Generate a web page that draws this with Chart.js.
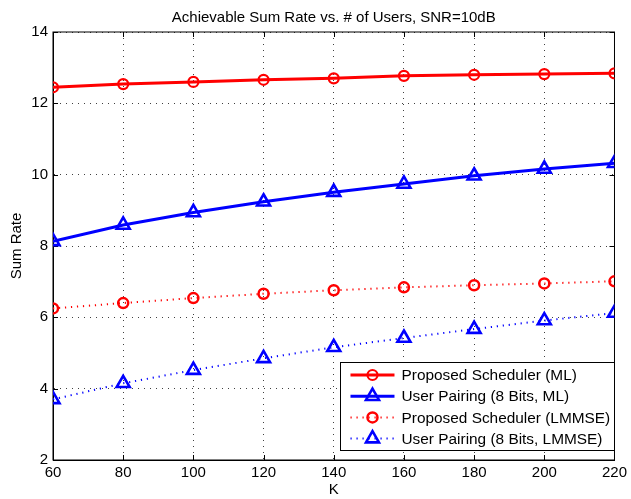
<!DOCTYPE html>
<html>
<head>
<meta charset="utf-8">
<script src="https://cdn.jsdelivr.net/npm/chart.js@4.4.1/dist/chart.umd.min.js"></script>
<style>
html,body{margin:0;padding:0;background:#fff;}
#wrap{width:631px;height:499px;position:relative;}
</style>
</head>
<body>
<div id="wrap"><canvas id="c" width="631" height="499"></canvas></div>
<script>
// ---- data ----
const kValues = [60, 80, 100, 120, 140, 160, 180, 200, 220];
const proposedML = [12.45, 12.54, 12.60, 12.66, 12.70, 12.77, 12.80, 12.82, 12.84];
const pairingML = [8.13, 8.59, 8.94, 9.24, 9.51, 9.74, 9.97, 10.16, 10.32];
const proposedLMMSE = [6.25, 6.40, 6.54, 6.66, 6.76, 6.84, 6.90, 6.95, 7.01];
const pairingLMMSE = [3.70, 4.15, 4.52, 4.85, 5.16, 5.42, 5.67, 5.91, 6.12];
const seriesNames = ['Proposed Scheduler (ML)', 'User Pairing (8 Bits, ML)', 'Proposed Scheduler (LMMSE)', 'User Pairing (8 Bits, LMMSE)'];
const titleText = 'Achievable Sum Rate vs. # of Users, SNR=10dB';
const xTitle = 'K';
const yTitle = 'Sum Rate';
const xMin = 60, xMax = 220, xStep = 20;
const yMin = 2, yMax = 14, yStep = 2;

const FONT = '"Liberation Sans", Helvetica, Arial, sans-serif';
const toPts = arr => kValues.map((k, i) => ({x: k, y: arr[i]}));

const RED = '#ff0000', BLUE = '#0000ff';
const DOT = [1.2, 4.8];

const framePlugin = {
  id: 'frame',
  beforeDatasetsDraw(chart) {
    const {ctx, chartArea: a, scales} = chart;
    ctx.save();
    ctx.strokeStyle = '#000';
    ctx.lineWidth = 1;
    ctx.strokeRect(a.left, a.top, a.right - a.left, a.bottom - a.top);
    const tl = 5;
    ctx.beginPath();
    scales.x.ticks.forEach(t => {
      const px = Math.round(scales.x.getPixelForValue(t.value)) + 0.5;
      ctx.moveTo(px, a.bottom); ctx.lineTo(px, a.bottom - tl);
      ctx.moveTo(px, a.top); ctx.lineTo(px, a.top + tl);
    });
    scales.y.ticks.forEach(t => {
      const py = Math.round(scales.y.getPixelForValue(t.value)) + 0.5;
      ctx.moveTo(a.left, py); ctx.lineTo(a.left + tl, py);
      ctx.moveTo(a.right, py); ctx.lineTo(a.right - tl, py);
    });
    ctx.stroke();
    ctx.restore();
  }
};

const legendPlugin = {
  id: 'boxLegend',
  afterDraw(chart) {
    const {ctx, chartArea: a} = chart;
    const w = 274, h = 88;
    const x0 = a.right - w, y0 = a.bottom - 10 - h;
    ctx.save();
    ctx.fillStyle = '#fff';
    ctx.fillRect(x0, y0, w, h);
    ctx.strokeStyle = '#000';
    ctx.lineWidth = 1;
    ctx.strokeRect(Math.round(x0) + 0.5, Math.round(y0) + 0.5, w, h);
    chart.data.datasets.forEach((ds, i) => {
      const cy = y0 + 13 + i * 21.2;
      const lx1 = x0 + 10, lx2 = x0 + 54, mx = (lx1 + lx2) / 2;
      ctx.strokeStyle = ds.borderColor;
      ctx.lineWidth = ds.borderWidth;
      ctx.setLineDash(ds.borderDash || []);
      ctx.beginPath(); ctx.moveTo(lx1, cy); ctx.lineTo(lx2, cy); ctx.stroke();
      ctx.setLineDash([]);
      ctx.lineWidth = ds.pointBorderWidth;
      ctx.fillStyle = 'rgba(0,0,0,0)';
      Chart.helpers.drawPoint(ctx, {pointStyle: ds.pointStyle, radius: ds.pointRadius, rotation: 0, borderWidth: ds.pointBorderWidth}, mx, cy);
      ctx.fillStyle = '#000';
      ctx.font = '15.4px ' + FONT;
      ctx.textBaseline = 'middle';
      ctx.textAlign = 'left';
      ctx.fillText(ds.label, x0 + 61, cy + 1);
    });
    ctx.restore();
  }
};

const mkDs = (label, arr, color, dash, width, style, radius, pbw) => ({
  label, data: toPts(arr), borderColor: color, backgroundColor: color,
  borderWidth: width, borderDash: dash, pointStyle: style, pointRadius: radius,
  pointHoverRadius: radius, pointBorderWidth: pbw, pointBorderColor: color,
  pointBackgroundColor: 'rgba(0,0,0,0)', tension: 0, fill: false
});

new Chart(document.getElementById('c'), {
  type: 'line',
  data: {
    datasets: [
      mkDs(seriesNames[0], proposedML, RED, [], 3, 'circle', 5, 2.2),
      mkDs(seriesNames[1], pairingML, BLUE, [], 3, 'triangle', 7.5, 2.6),
      mkDs(seriesNames[2], proposedLMMSE, RED, DOT, 2, 'circle', 5, 2.5),
      mkDs(seriesNames[3], pairingLMMSE, BLUE, DOT, 2, 'triangle', 7.5, 2.6)
    ]
  },
  options: {
    responsive: false,
    animation: false,
    devicePixelRatio: 1,
    layout: {padding: {left: 0, right: 14, top: 0, bottom: 0}},
    plugins: {
      legend: {display: false},
      tooltip: {enabled: false},
      title: {
        display: true, text: titleText, fullSize: false, color: '#000',
        font: {family: FONT, size: 15, weight: 'normal'},
        padding: {top: 9, bottom: 5}
      }
    },
    scales: {
      x: {
        type: 'linear', min: xMin, max: xMax,
        afterFit(s) { s.height = 39; },
        ticks: {stepSize: xStep, color: '#000', padding: 4, maxRotation: 0, font: {family: FONT, size: 15}},
        grid: {color: 'rgba(0,0,0,0.75)', lineWidth: 1, drawTicks: false},
        border: {display: true, color: '#000', width: 1, dash: [1, 5]},
        title: {display: true, text: xTitle, color: '#000', font: {family: FONT, size: 15}, padding: {top: 0, bottom: 0}}
      },
      y: {
        type: 'linear', min: yMin, max: yMax,
        afterFit(s) { s.width = 53; },
        ticks: {stepSize: yStep, color: '#000', padding: 5, font: {family: FONT, size: 15}},
        grid: {color: 'rgba(0,0,0,0.75)', lineWidth: 1, drawTicks: false},
        border: {display: true, color: '#000', width: 1, dash: [1, 5]},
        title: {display: true, text: yTitle, color: '#000', font: {family: FONT, size: 15}, padding: {top: 8, bottom: 0}}
      }
    }
  },
  plugins: [framePlugin, legendPlugin]
});
</script>
</body>
</html>
